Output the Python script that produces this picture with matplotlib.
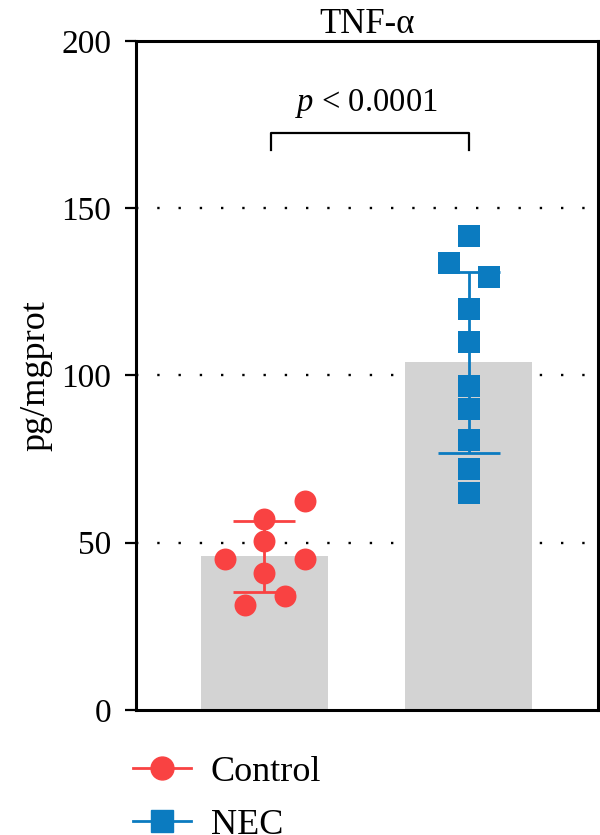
import numpy as np
import matplotlib
matplotlib.use("Agg")
import matplotlib.pyplot as plt
from matplotlib.lines import Line2D


# Data

groups = ["Control", "NEC"]
control = [62.6, 57.2, 50.6, 45.2, 45.2, 41.0, 34.1, 31.4]
control_dx = [0.2, 0.0, 0.0, -0.19, 0.2, 0.0, 0.1, -0.093]
nec = [141.6, 133.5, 129.3, 119.8, 109.9, 97.0, 90.1, 80.8, 71.9, 65.0]
nec_dx = [0.0, -0.098, 0.098, 0.0, 0.0, 0.0, 0.0, 0.0, 0.0, 0.0]
yticks = [0, 50, 100, 150, 200]
title = "TNF-α"
ylabel = "pg/mgprot"
p_text = "$\\it{p}$ < 0.0001"
bracket_y = [167.4, 172.6]


# Style

red = "#F94242"
blue = "#0B7BC0"
gray = "#D3D3D3"
plt.rcParams["font.family"] = ["Liberation Serif", "DejaVu Serif"]
plt.rcParams["mathtext.fontset"] = "custom"
plt.rcParams["mathtext.it"] = "Liberation Serif:italic"
plt.rcParams["mathtext.rm"] = "Liberation Serif"


# Plot

fig = plt.figure(figsize=(6, 8.35), dpi=100)
ax = fig.add_axes([0.2267, 0.1497, 0.77, 0.8012])

values = [control, nec]
offsets = [control_dx, nec_dx]
colors = [red, blue]
markers = ["o", "s"]

for i in range(len(groups)):
    v = np.array(values[i])
    m = v.mean()
    sd = v.std(ddof=1)
    ax.bar(i, m, width=0.62, color=gray, zorder=1)
    ax.errorbar(i, m, yerr=sd, color=colors[i], capsize=22, elinewidth=2,
                capthick=2, zorder=2)
    ax.scatter(i + np.array(offsets[i]), v, s=15.8**2, marker=markers[i],
               color=colors[i], linewidths=0, zorder=3)

for y in yticks[1:-1]:
    ax.axhline(y, color="black", lw=1.7, linestyle=(0, (1, 8)), zorder=0)

# significance bracket
ax.plot([0.035, 0.035, 1.0, 1.0], [bracket_y[0], bracket_y[1], bracket_y[1], bracket_y[0]],
        color="black", lw=1.6, zorder=3)
ax.text(0.5, 176.5, p_text, ha="center", va="bottom", fontsize=23.5)

ax.set_xlim(-0.625, 1.63)
ax.set_ylim(0, 200)
ax.set_yticks(yticks)
ax.set_xticks([])
ax.tick_params(axis="y", labelsize=24, length=8, width=1.6, pad=10)
for s in ax.spines.values():
    s.set_linewidth(2.2)
ax.set_title(title, fontsize=25, pad=5)
ax.set_ylabel(ylabel, fontsize=26, labelpad=6)

handles = [Line2D([], [], color=red, marker="o", markersize=16.5, lw=2),
           Line2D([], [], color=blue, marker="s", markersize=16.5, lw=2)]
fig.legend(handles, groups, loc="upper left", bbox_to_anchor=(0.222, 0.095),
           frameon=False, fontsize=26, handlelength=1.6, handletextpad=0.55,
           labelspacing=0.54, borderaxespad=0, borderpad=0)

plt.savefig("out.png", dpi=100)
